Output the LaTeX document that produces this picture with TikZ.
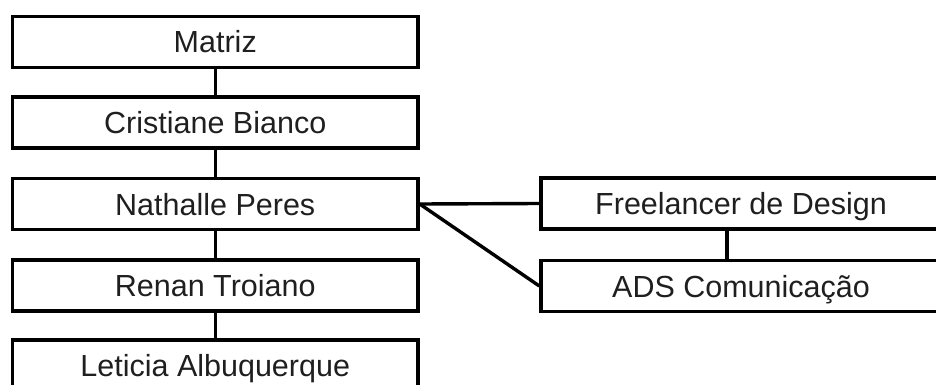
\documentclass[tikz,border=0pt]{standalone}
\usepackage{fontspec}
\setmainfont{Liberation Sans}
\begin{document}
\begin{tikzpicture}[x=1pt,y=-1pt,
  orgbox/.style={draw=black, line width=3.4pt, fill=white, rectangle, inner sep=0pt,
    minimum height=51pt, text height=22pt, text depth=0pt,
    font=\fontsize{30.5}{36}\selectfont, text=black!88},
  leftbox/.style={orgbox, minimum width=405.5pt},
  rightbox/.style={orgbox, minimum width=400pt},
  link/.style={draw=black, line width=3.4pt}]
\useasboundingbox (0,0) rectangle (936,385);
\clip (0,0) rectangle (936,385);
\fill[white] (0,0) rectangle (936,385);
\node[leftbox] (m) at (215.25,42) {Matriz};
\node[leftbox] (c) at (215.25,122.5) {Cristiane Bianco};
\node[leftbox] (n) at (215.25,204) {Nathalle Peres};
\node[leftbox] (r) at (215.25,285.5) {Renan Troiano};
\node[leftbox] (l) at (215.25,365.5) {Leticia Albuquerque};
\node[rightbox] (f) at (741,203.5) {Freelancer de Design};
\node[rightbox] (a) at (741,286) {ADS Comunicação};
\coordinate (fx) at (727,0);
\draw[link] (m) -- (c);
\draw[link] (c) -- (n);
\draw[link] (n) -- (r);
\draw[link] (r) -- (l);
\draw[link] (n.east) -- (f.west);
\draw[link] (n.east) -- (a.west);
\draw[link] (f.south -| fx) -- (a.north -| fx);
\end{tikzpicture}
\end{document}
